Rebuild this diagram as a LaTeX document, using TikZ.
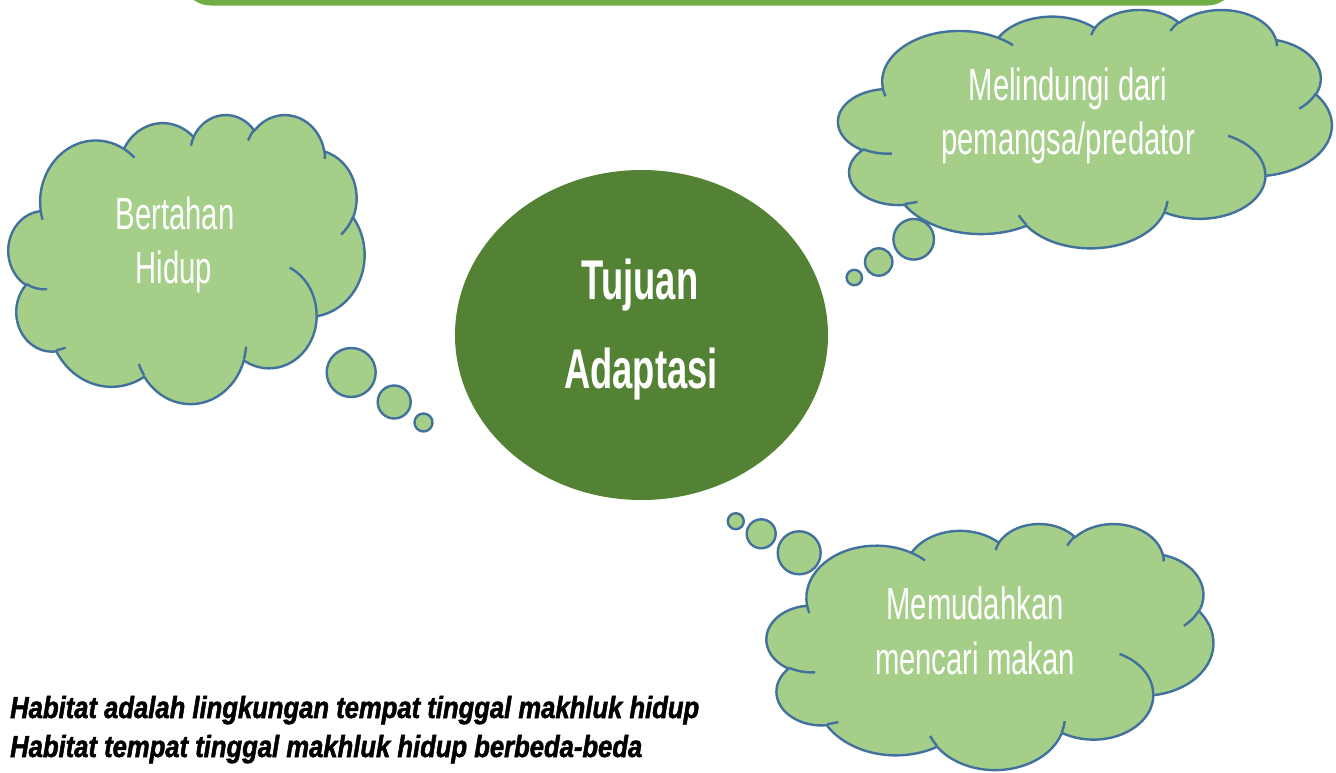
\documentclass[tikz,border=0pt]{standalone}
\usepackage{fontspec}
\usetikzlibrary{shapes.geometric}
\newfontfamily\condfont[FakeStretch=0.65]{Liberation Sans}
\newfontfamily\habfont[FakeStretch=0.84,FakeBold=1.6]{Liberation Sans}
\definecolor{cloudfill}{HTML}{A5CF89}
\definecolor{cloudedge}{HTML}{41719C}
\definecolor{ctrfill}{HTML}{548235}
\definecolor{barfill}{HTML}{70AD47}
\tikzset{
  ooarc/.code args={#1/#2/#3/#4}{%
    \pgfmathsetmacro\oos{#3}%
    \pgfmathsetmacro\ooe{#3+#4}%
    \pgfmathsetmacro\oots{atan2(#1*sin(\oos),#2*cos(\oos))}%
    \pgfmathsetmacro\oote{atan2(#1*sin(\ooe),#2*cos(\ooe))}%
    \pgfmathsetmacro\ood{mod(\oote-\oots+720,360)}%
    \tikzset{start angle=\oots, delta angle=\ood, x radius=#1, y radius=#2}},
  cloudbody/.style={fill=cloudfill, draw=cloudedge, line width=2.4pt, line join=round},
  cloudinner/.style={draw=cloudedge, line width=2.4pt, line cap=butt},
  bubble/.style={circle, fill=cloudfill, draw=cloudedge, line width=2.4pt, inner sep=0pt},
  cloudtext/.style={text=white, font=\condfont\fontsize{45}{54}\selectfont, anchor=base, inner sep=0pt},
  ctrtext/.style={text=white, font=\condfont\bfseries\fontsize{56}{64}\selectfont, anchor=base, inner sep=0pt},
  habtext/.style={text=black, font=\habfont\bfseries\itshape\fontsize{30.5}{38}\selectfont, anchor=base west, inner sep=0pt},
}
\newcommand\cloudshape[4]{%
  \begin{scope}[shift={(#1,-#2)}, xscale=#3/432, yscale=-#4/432]
    \path[cloudbody] (39.00,143.70)
      arc[ooarc=67.53/91.90/-190.487483/123.780533]
      arc[ooarc=53.33/72.67/-144.102383/89.945233]
      arc[ooarc=43.65/59.45/-145.807917/99.723017]
      arc[ooarc=48.57/65.95/-130.986067/117.241733]
      arc[ooarc=53.33/72.73/-78.708883/109.026917]
      arc[ooarc=67.75/92.20/-46.26725/130.269]
      arc[ooarc=57.85/78.67/0.625017/114.033333]
      arc[ooarc=67.52/92.15/22.4516/115.17255]
      arc[ooarc=77.20/105.43/66.242633/75.711017]
      arc[ooarc=43.60/59.18/-274.942083/146.735567]
      arc[ooarc=43.45/59.45/-246.8285/152.51885] -- cycle;
    \path[cloudinner]
      (46.93,261.77) arc[ooarc=43.45/59.45/86.742/26.4295]
      (69.28,348.99) arc[ooarc=43.60/59.18/73.610467/11.447467]
      (164.78,390.90) arc[ooarc=67.52/92.15/137.62415/14.0811]
      (288.27,347.51) arc[ooarc=67.52/92.15/6.453267/15.99835]
      (341.29,229.54) arc[ooarc=57.85/78.67/-70.29235/70.917367]
      (417.98,153.54) arc[ooarc=53.33/72.73/30.318033/27.7515]
      (383.24,54.26) arc[ooarc=48.57/65.95/-13.744333/14.8589]
      (290.78,39.52) arc[ooarc=48.57/65.95/-149.18145/18.195367]
      (221.41,47.20) arc[ooarc=43.65/59.45/-163.494267/17.68635]
      (140.00,51.92) arc[ooarc=67.53/91.90/-66.70695/12.31935]
      (41.27,157.89) arc[ooarc=67.53/91.90/157.65435/11.858167];
  \end{scope}}
\begin{document}
\begin{tikzpicture}[x=1pt,y=1pt]
\useasboundingbox (0,0) rectangle (1336,-772);
% top bar
\fill[barfill, rounded corners=30pt] (181,60) rectangle (1237,-5.5);
% central ellipse
\node[ellipse, fill=ctrfill, minimum width=373pt, minimum height=330pt, inner sep=0pt] (center) at (641.5,-335) {};
\node[ctrtext] (tujuan) at (640,-299) {Tujuan};
\node[ctrtext] (adaptasi) at (641,-388) {Adaptasi};
% left cloud
\cloudshape{8.5}{114.1}{356}{289}
\node[bubble, minimum size=49pt] (lb1) at (351.2,-372.5) {};
\node[bubble, minimum size=33pt] (lb2) at (394.2,-402) {};
\node[bubble, minimum size=18pt] (lb3) at (423.5,-422.5) {};
\node[cloudtext] (bertahan) at (175,-229) {Bertahan};
\node[cloudtext] (hidup) at (174,-283) {Hidup};
% top right cloud
\cloudshape{838.3}{9.2}{493.4}{238.3}
\node[bubble, minimum size=40.6pt] (rb1) at (913.7,-239.3) {};
\node[bubble, minimum size=27.4pt] (rb2) at (878.7,-262) {};
\node[bubble, minimum size=15.4pt] (rb3) at (854.3,-277.5) {};
\node[cloudtext] (melindungi) at (1068,-100) {Melindungi dari};
\node[cloudtext] (pemangsa) at (1068,-154) {pemangsa/predator};
% bottom right cloud
\cloudshape{766.7}{523.2}{446.6}{246}
\node[bubble, minimum size=43pt] (bb1) at (799.2,-552.8) {};
\node[bubble, minimum size=29pt] (bb2) at (761.2,-533.8) {};
\node[bubble, minimum size=16pt] (bb3) at (735.8,-521.2) {};
\node[cloudtext] (memudahkan) at (975,-619) {Memudahkan};
\node[cloudtext] (mencari) at (975,-674) {mencari makan};
% bottom text
\node[habtext] (hab1) at (10,-718) {Habitat adalah lingkungan tempat tinggal makhluk hidup};
\node[habtext] (hab2) at (10,-757) {Habitat tempat tinggal makhluk hidup berbeda-beda};
\end{tikzpicture}
\end{document}
